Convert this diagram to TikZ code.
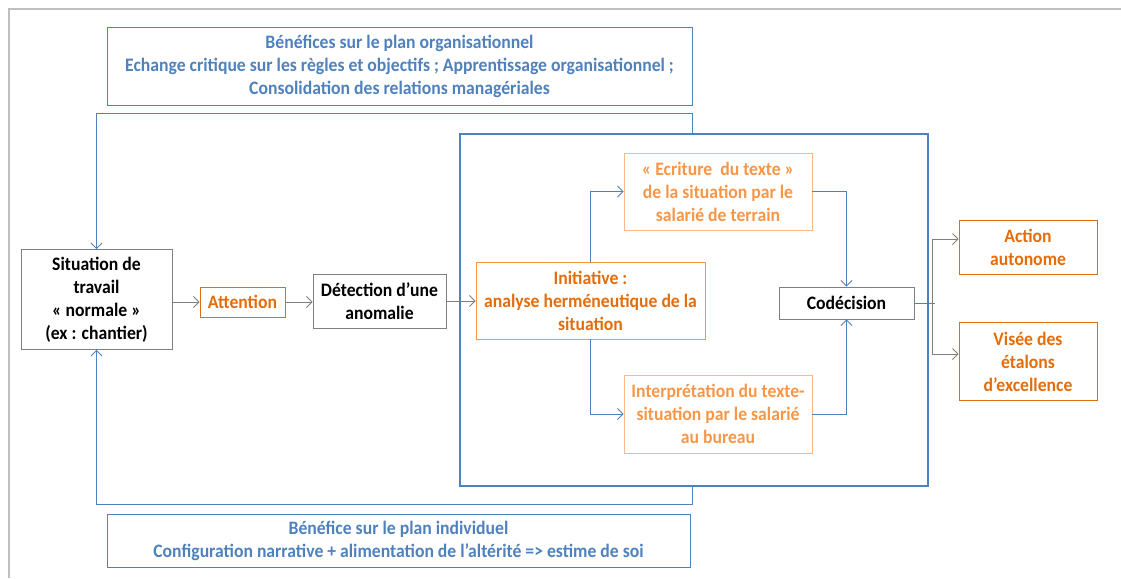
\documentclass[tikz,border=0pt]{standalone}
\usepackage{fontspec}
\setmainfont{Carlito}[FakeStretch=0.93]
\usetikzlibrary{arrows.meta}
\definecolor{ofblue}{HTML}{4F81BD}
\definecolor{oforange}{HTML}{E46C0A}
\definecolor{oflight}{HTML}{F79646}
\definecolor{ofpale}{HTML}{F9B88C}
\definecolor{ofgray}{HTML}{7F7F7F}
\definecolor{framegray}{HTML}{BFBFBF}

\begin{document}
\begin{tikzpicture}[x=1pt,y=-1pt,font=\fontsize{19}{23}\selectfont\bfseries,>={Straight Barb[length=5.5pt,width=11pt]},
  box/.style={draw=ofgray,line width=0.9pt,align=center,inner sep=0pt,text=black},
  orangebox/.style={box,draw=oforange,text=oforange},
  lightbox/.style={box,draw=ofpale,text=oflight},
  notebox/.style={box,draw=ofblue,text=ofblue},
  arr/.style={ofgray,line width=0.8pt},
  fb/.style={ofblue,line width=0.8pt}]
\useasboundingbox (0,0) rectangle (1121,578);
\draw [framegray,line width=1.5pt] (9,578) -- (9,9) -- (1121,9);
\node [notebox,minimum width=585,minimum height=78] (orga) at (399.5,66) {Bénéfices sur le plan organisationnel\\Echange critique sur les règles et objectifs ; Apprentissage organisationnel ;\\Consolidation des relations managériales};
\node [notebox,minimum width=583,minimum height=53] (indiv) at (398.5,540.5) {Bénéfice sur le plan individuel\\Configuration narrative + alimentation de l’altérité => estime de soi};
\node [draw=ofblue,line width=2.5pt,minimum width=468,minimum height=352,inner sep=0pt] (core) at (694,310) {};
\node [box,minimum width=151,minimum height=100] (sit) at (96.5,299.5) {Situation de\\travail\\« normale »\\(ex : chantier)};
\node [orangebox,minimum width=85,minimum height=30] (att) at (242.5,302) {Attention};
\node [box,minimum width=133,minimum height=54] (det) at (379.5,301) {Détection d’une\\anomalie};
\node [box,draw=oflight,text=oforange,minimum width=229,minimum height=77] (ini) at (590.5,300.5) {Initiative :\\analyse herméneutique de la\\situation};
\node [lightbox,minimum width=188,minimum height=77] (ecr) at (718,191.5) {« Ecriture~ du texte »\\de la situation par le\\salarié de terrain};
\node [lightbox,minimum width=188,minimum height=78] (int) at (718,414) {Interprétation du texte-\\situation par le salarié\\au bureau};
\node [box,minimum width=135,minimum height=32] (cod) at (846.5,303) {Codécision};
\node [orangebox,minimum width=138,minimum height=54] (act) at (1028,247) {Action\\autonome};
\node [orangebox,minimum width=138,minimum height=78] (vis) at (1028,361.5) {Visée des\\étalons\\d’excellence};
\coordinate (split) at (932,303);
\draw [arr,->] (sit.east |- att.west) -- (att.west); \draw [arr,->] (att.east) -- (det.west |- att.east); \draw [arr,->] (det.east) -- (ini.west |- det.east);
\draw [fb,->] (ini.north) |- (ecr.west); \draw [fb,->] (ini.south) |- (int.west);
\draw [fb,->] (ecr.east) -| (cod.north); \draw [fb,->] (int.east) -| (cod.south);
\draw [fb] (cod.east) -- ([xshift=3pt]split);
\draw [arr,<->] ([yshift=8pt]act.west) -| (split) |- ([yshift=7.5pt]vis.west);
\draw [fb,->] (core.north -| orga.east) -- ++(0,-19) -| (sit.north);
\draw [fb,->] (core.south -| orga.east) -- ++(0,17) -| (sit.south);
\end{tikzpicture}
\end{document}
